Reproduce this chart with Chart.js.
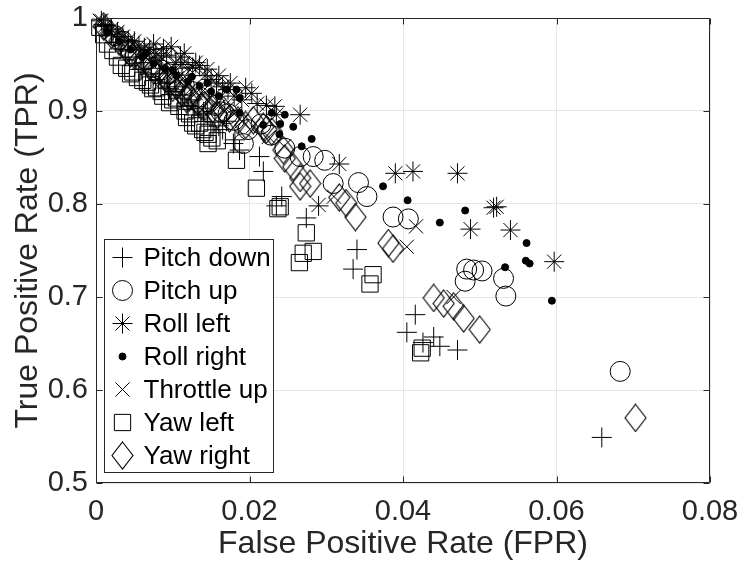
<!DOCTYPE html>
<html>
<head>
<meta charset="utf-8">
<script src="https://cdn.jsdelivr.net/npm/chart.js@4/dist/chart.umd.min.js"></script>
<style>
  html, body { margin: 0; padding: 0; background: #fff; }
  #wrap { width: 740px; height: 571px; }
</style>
</head>
<body>
<div id="wrap"><canvas id="rocChart" width="740" height="571"></canvas></div>
<script>
// [FPR, TPR] pairs per manoeuvre
const pitchDown = [
  [0.0010,0.993],[0.0020,0.982],[0.0030,0.974],[0.0042,0.966],[0.0052,0.958],[0.0060,0.945],
  [0.0062,0.952],[0.0072,0.946],[0.0083,0.940],[0.0093,0.931],[0.0095,0.924],[0.0104,0.926],
  [0.0113,0.917],[0.0120,0.905],[0.0124,0.912],[0.0134,0.903],[0.0140,0.899],[0.0145,0.897],
  [0.0155,0.888],[0.0160,0.884],[0.0165,0.880],[0.0170,0.889],[0.0179,0.865],[0.0181,0.869],
  [0.0187,0.858],[0.0213,0.851],[0.0218,0.835],[0.0242,0.808],[0.0235,0.798],[0.0274,0.785],
  [0.0290,0.798],[0.0340,0.751],[0.0335,0.730],[0.0416,0.681],[0.0405,0.662],[0.0426,0.651],
  [0.0440,0.657],[0.0448,0.647],[0.0471,0.643],[0.0659,0.549]
];
const pitchUp = [
  [0.0025,0.981],[0.0035,0.975],[0.0045,0.966],[0.0065,0.955],[0.0075,0.947],[0.0085,0.944],
  [0.0095,0.940],[0.0105,0.931],[0.0115,0.928],[0.0125,0.921],[0.0135,0.915],[0.0145,0.910],
  [0.0155,0.906],[0.0163,0.899],[0.0172,0.897],[0.0180,0.890],[0.0198,0.880],[0.0192,0.865],
  [0.0215,0.886],[0.0228,0.874],[0.0246,0.860],[0.0266,0.851],[0.0283,0.851],[0.0298,0.847],
  [0.0309,0.822],[0.0342,0.823],[0.0353,0.808],[0.0387,0.786],[0.0407,0.784],[0.0483,0.730],
  [0.0492,0.729],[0.0503,0.728],[0.0481,0.717],[0.0531,0.720],[0.0534,0.701],[0.0683,0.620]
];
const rollLeft = [
  [0.0007,0.997],[0.0012,0.992],[0.0020,0.988],[0.0028,0.985],[0.0035,0.980],[0.0042,0.976],
  [0.0050,0.975],[0.0056,0.970],[0.0063,0.968],[0.0070,0.966],[0.0075,0.972],[0.0078,0.962],
  [0.0085,0.958],[0.0088,0.967],[0.0092,0.960],[0.0098,0.969],[0.0104,0.952],[0.0110,0.958],
  [0.0112,0.950],[0.0115,0.962],[0.0120,0.946],[0.0126,0.947],[0.0130,0.952],[0.0135,0.949],
  [0.0142,0.938],[0.0145,0.945],[0.0150,0.934],[0.0157,0.930],[0.0160,0.938],[0.0165,0.926],
  [0.0172,0.923],[0.0175,0.930],[0.0180,0.916],[0.0190,0.912],[0.0195,0.925],[0.0203,0.919],
  [0.0210,0.908],[0.0222,0.906],[0.0233,0.905],[0.0235,0.896],[0.0266,0.896],[0.0317,0.843],
  [0.0390,0.833],[0.0413,0.835],[0.0471,0.833],[0.0518,0.796],[0.0522,0.797],[0.0488,0.773],
  [0.0540,0.772],[0.0597,0.738]
];
const rollRight = [
  [0.0015,0.985],[0.0030,0.975],[0.0045,0.966],[0.0060,0.958],[0.0065,0.962],[0.0075,0.951],
  [0.0090,0.945],[0.0100,0.944],[0.0105,0.938],[0.0120,0.932],[0.0125,0.937],[0.0135,0.927],
  [0.0145,0.930],[0.0150,0.921],[0.0160,0.916],[0.0170,0.923],[0.0183,0.923],[0.0187,0.914],
  [0.0187,0.898],[0.0218,0.885],[0.0229,0.898],[0.0246,0.896],[0.0240,0.886],[0.0257,0.883],
  [0.0239,0.875],[0.0281,0.870],[0.0268,0.862],[0.0374,0.819],[0.0406,0.804],[0.0448,0.780],
  [0.0481,0.793],[0.0561,0.758],[0.0560,0.739],[0.0565,0.736],[0.0533,0.732],[0.0594,0.696]
];
const throttleUp = [
  [0.0005,0.997],[0.0012,0.989],[0.0020,0.984],[0.0025,0.980],[0.0030,0.976],[0.0040,0.972],
  [0.0050,0.962],[0.0060,0.961],[0.0065,0.958],[0.0070,0.953],[0.0080,0.951],[0.0085,0.946],
  [0.0090,0.941],[0.0100,0.943],[0.0105,0.935],[0.0110,0.932],[0.0120,0.930],[0.0125,0.925],
  [0.0130,0.919],[0.0140,0.922],[0.0145,0.912],[0.0155,0.909],[0.0160,0.905],[0.0170,0.902],
  [0.0180,0.897],[0.0190,0.889],[0.0205,0.884],[0.0225,0.872],[0.0245,0.862],[0.0290,0.799],
  [0.0310,0.808],[0.0417,0.776],[0.0405,0.754],[0.0466,0.700]
];
const yawLeft = [
  [0.0005,0.990],[0.0010,0.982],[0.0015,0.972],[0.0022,0.965],[0.0028,0.958],[0.0033,0.949],
  [0.0040,0.946],[0.0045,0.940],[0.0048,0.942],[0.0054,0.936],[0.0061,0.933],[0.0067,0.931],
  [0.0071,0.928],[0.0074,0.924],[0.0079,0.925],[0.0085,0.921],[0.0087,0.916],[0.0096,0.909],
  [0.0100,0.912],[0.0105,0.914],[0.0108,0.905],[0.0116,0.900],[0.0118,0.893],[0.0122,0.897],
  [0.0126,0.887],[0.0130,0.884],[0.0135,0.887],[0.0139,0.880],[0.0142,0.877],[0.0146,0.875],
  [0.0146,0.865],[0.0151,0.871],[0.0158,0.868],[0.0183,0.847],[0.0209,0.817],[0.0240,0.797],
  [0.0237,0.795],[0.0274,0.769],[0.0270,0.747],[0.0283,0.749],[0.0265,0.737],[0.0361,0.724],
  [0.0357,0.714],[0.0423,0.640],[0.0425,0.645]
];
const yawRight = [
  [0.0010,0.991],[0.0020,0.982],[0.0030,0.975],[0.0040,0.966],[0.0045,0.962],[0.0050,0.960],
  [0.0060,0.953],[0.0070,0.948],[0.0075,0.944],[0.0080,0.941],[0.0090,0.936],[0.0097,0.930],
  [0.0100,0.925],[0.0105,0.927],[0.0112,0.920],[0.0118,0.913],[0.0122,0.915],[0.0132,0.910],
  [0.0138,0.905],[0.0142,0.905],[0.0152,0.902],[0.0158,0.896],[0.0166,0.901],[0.0174,0.892],
  [0.0185,0.890],[0.0195,0.885],[0.0205,0.890],[0.0218,0.883],[0.0222,0.880],[0.0229,0.878],
  [0.0244,0.858],[0.0246,0.849],[0.0257,0.840],[0.0266,0.819],[0.0266,0.828],[0.0279,0.822],
  [0.0317,0.807],[0.0326,0.801],[0.0338,0.786],[0.0381,0.758],[0.0387,0.752],[0.0440,0.699],
  [0.0453,0.693],[0.0466,0.690],[0.0479,0.677],[0.0500,0.665],[0.0703,0.570]
];

const xTicks = [0, 0.02, 0.04, 0.06, 0.08];
const yTicks = [0.5, 0.6, 0.7, 0.8, 0.9, 1];

const FONT = "'Liberation Sans', Arial, Helvetica, sans-serif";
const INK = '#262626';

// tall diamond, drawn once and reused as a point image
function diamondMarker(w, h) {
  const c = document.createElement('canvas');
  c.width = w + 2; c.height = h + 2;
  const g = c.getContext('2d');
  const cx = c.width / 2, cy = c.height / 2;
  g.strokeStyle = '#000';
  g.lineWidth = 1.1;
  g.beginPath();
  g.moveTo(cx, cy - h / 2);
  g.lineTo(cx + w / 2, cy);
  g.lineTo(cx, cy + h / 2);
  g.lineTo(cx - w / 2, cy);
  g.closePath();
  g.stroke();
  return c;
}

// marker look for each series, in legend order
const markers = [
  { label: 'Pitch down',  data: pitchDown,  style: 'cross',    r: 10 },
  { label: 'Pitch up',    data: pitchUp,    style: 'circle',   r: 10 },
  { label: 'Roll left',   data: rollLeft,   style: 'star',     r: 10 },
  { label: 'Roll right',  data: rollRight,  style: 'circle',   r: 3.5, filled: true },
  { label: 'Throttle up', data: throttleUp, style: 'crossRot', r: 10 },
  { label: 'Yaw left',    data: yawLeft,    style: 'rect',     r: 11.5 },
  { label: 'Yaw right',   data: yawRight,   style: diamondMarker(21, 27), r: 13 }
];

const datasets = markers.map(m => ({
  label: m.label,
  data: m.data.map(p => ({ x: p[0], y: p[1] })),
  pointStyle: m.style,
  pointRadius: m.r,
  pointHoverRadius: m.r,
  borderColor: '#000',
  backgroundColor: m.filled ? '#000' : 'rgba(0,0,0,0)',
  pointBorderWidth: 1,
  clip: false
}));

// axes box with inward ticks on all four sides
const axesBox = {
  id: 'axesBox',
  afterDatasetsDraw(chart) {
    const { ctx, chartArea: a, scales } = chart;
    const L = Math.round(a.left) + 0.5, R = Math.round(a.right) - 0.5;
    const T = Math.round(a.top) + 0.5, B = Math.round(a.bottom) - 0.5;
    const tick = 6;
    ctx.save();
    ctx.strokeStyle = INK;
    ctx.lineWidth = 1;
    ctx.beginPath();
    ctx.rect(L, T, R - L, B - T);
    xTicks.forEach(v => {
      const px = Math.round(scales.x.getPixelForValue(v)) + 0.5;
      ctx.moveTo(px, B); ctx.lineTo(px, B - tick);
      ctx.moveTo(px, T); ctx.lineTo(px, T + tick);
    });
    yTicks.forEach(v => {
      const py = Math.round(scales.y.getPixelForValue(v)) + 0.5;
      ctx.moveTo(L, py); ctx.lineTo(L + tick, py);
      ctx.moveTo(R, py); ctx.lineTo(R - tick, py);
    });
    ctx.stroke();
    ctx.restore();
  }
};

// boxed legend sitting in the lower-left corner of the plot
const legendBox = {
  id: 'legendBox',
  afterDraw(chart) {
    const { ctx, chartArea: a } = chart;
    const w = 169, rowH = 33, h = 233;
    const x0 = Math.round(a.left) + 8.5, y0 = Math.round(a.bottom) - 10.5 - h;
    ctx.save();
    ctx.fillStyle = '#fff';
    ctx.fillRect(x0, y0, w, h);
    ctx.strokeStyle = INK;
    ctx.lineWidth = 1;
    ctx.strokeRect(x0, y0, w, h);
    ctx.font = '26px ' + FONT;
    ctx.textBaseline = 'middle';
    ctx.textAlign = 'left';
    markers.forEach((m, i) => {
      const cy = y0 + 18 + i * rowH;
      const cx = x0 + 18;
      ctx.strokeStyle = '#000';
      ctx.fillStyle = m.filled ? '#000' : 'rgba(0,0,0,0)';
      ctx.lineWidth = 1;
      Chart.helpers.drawPoint(ctx, { pointStyle: m.style, radius: m.r, rotation: 0, borderWidth: 1 }, cx, cy);
      ctx.fillStyle = '#000';
      ctx.fillText(m.label, x0 + 39, cy + 1);
    });
    ctx.restore();
  }
};

new Chart(document.getElementById('rocChart'), {
  type: 'scatter',
  data: { datasets },
  options: {
    responsive: false,
    animation: false,
    events: [],
    layout: { padding: { top: 18, right: 30, left: 0, bottom: 0 } },
    plugins: { legend: { display: false }, tooltip: { enabled: false } },
    scales: {
      x: {
        type: 'linear', min: 0, max: 0.08,
        afterFit: s => { s.height = 88; s.paddingLeft = 0; s.paddingRight = 0; },
        afterBuildTicks: s => { s.ticks = xTicks.map(v => ({ value: v })); },
        grid: { color: '#e6e6e6', drawTicks: false },
        border: { display: false },
        ticks: { color: INK, font: { family: FONT, size: 29 }, padding: 12, maxRotation: 0,
                 callback: v => String(v) },
        title: { display: true, text: 'False Positive Rate (FPR)', color: INK,
                 font: { family: FONT, size: 32 }, padding: { top: 0, bottom: 8 } }
      },
      y: {
        type: 'linear', min: 0.5, max: 1,
        afterFit: s => { s.width = 96; s.paddingTop = 0; s.paddingBottom = 0; },
        afterBuildTicks: s => { s.ticks = yTicks.map(v => ({ value: v })); },
        grid: { color: '#e6e6e6', drawTicks: false },
        border: { display: false },
        ticks: { color: INK, font: { family: FONT, size: 29 }, padding: 8,
                 callback: v => String(v) },
        title: { display: true, text: 'True Positive Rate (TPR)', color: INK,
                 font: { family: FONT, size: 32 }, padding: { top: 9, bottom: 0 } }
      }
    }
  },
  plugins: [axesBox, legendBox]
});
</script>
</body>
</html>
